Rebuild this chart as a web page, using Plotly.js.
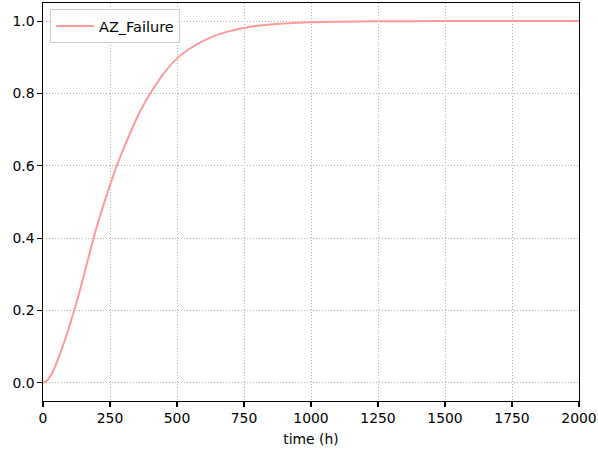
<!DOCTYPE html>
<html>
<head>
<meta charset="utf-8">
<script src="https://cdn.plot.ly/plotly-3.0.1.min.js"></script>
<style>html,body{margin:0;padding:0;background:#fff;}#chart{width:598px;height:452px;}</style>
</head>
<body>
<div id="chart"></div>
<script>
const seriesName = "AZ_Failure";
const timeHours = [0, 12.5, 25, 37.5, 50, 75, 100, 125, 150, 175, 200, 225, 250, 275, 300, 325, 350, 375, 400, 450, 500, 550, 600, 650, 700, 750, 800, 900, 1000, 1100, 1250, 1500, 1750, 2000];
const failureProb = [0, 0.005, 0.016, 0.033, 0.054, 0.104, 0.160, 0.222, 0.290, 0.362, 0.430, 0.490, 0.547, 0.600, 0.646, 0.690, 0.732, 0.768, 0.800, 0.855, 0.897, 0.925, 0.946, 0.962, 0.973, 0.981, 0.987, 0.993, 0.9965, 0.998, 0.9995, 1.0, 1.0, 1.0];
const xTicks = [0, 250, 500, 750, 1000, 1250, 1500, 1750, 2000];
const yTicks = [0.0, 0.2, 0.4, 0.6, 0.8, 1.0];

const font = {family: "DejaVu Sans", size: 13.9, color: "#000"};
const trace = {
  x: timeHours, y: failureProb, type: "scatter", mode: "lines", name: seriesName,
  line: {color: "#ff9a9a", width: 2, shape: "spline", smoothing: 0.6}
};
const axisCommon = {
  showline: true, mirror: true, linecolor: "#000", linewidth: 1.1,
  ticks: "outside", ticklen: 4.5, tickwidth: 1.1, tickcolor: "#000",
  showgrid: true, gridcolor: "#b0b0b0", gridwidth: 1, griddash: "1px,2px",
  zeroline: false, tickfont: font
};
const layout = {
  width: 598, height: 452,
  margin: {l: 43, r: 19, t: 3, b: 51},
  paper_bgcolor: "#fff", plot_bgcolor: "#fff",
  font: font,
  showlegend: true,
  legend: {x: 0.013, y: 0.985, xanchor: "left", yanchor: "top",
           bgcolor: "rgba(255,255,255,0.8)", bordercolor: "#cccccc", borderwidth: 1,
           font: {family: "DejaVu Sans", size: 14.5, color: "#000"}, itemwidth: 38},
  xaxis: Object.assign({}, axisCommon, {
    range: [0, 2000], tickvals: xTicks, ticktext: xTicks.map(String),
    title: {text: "time (h)", font: font, standoff: 9}
  }),
  yaxis: Object.assign({}, axisCommon, {
    range: [-0.05, 1.05], tickvals: yTicks, ticktext: yTicks.map(v => v.toFixed(1))
  })
};
Plotly.newPlot("chart", [trace], layout, {displayModeBar: false, staticPlot: true});
</script>
</body>
</html>
